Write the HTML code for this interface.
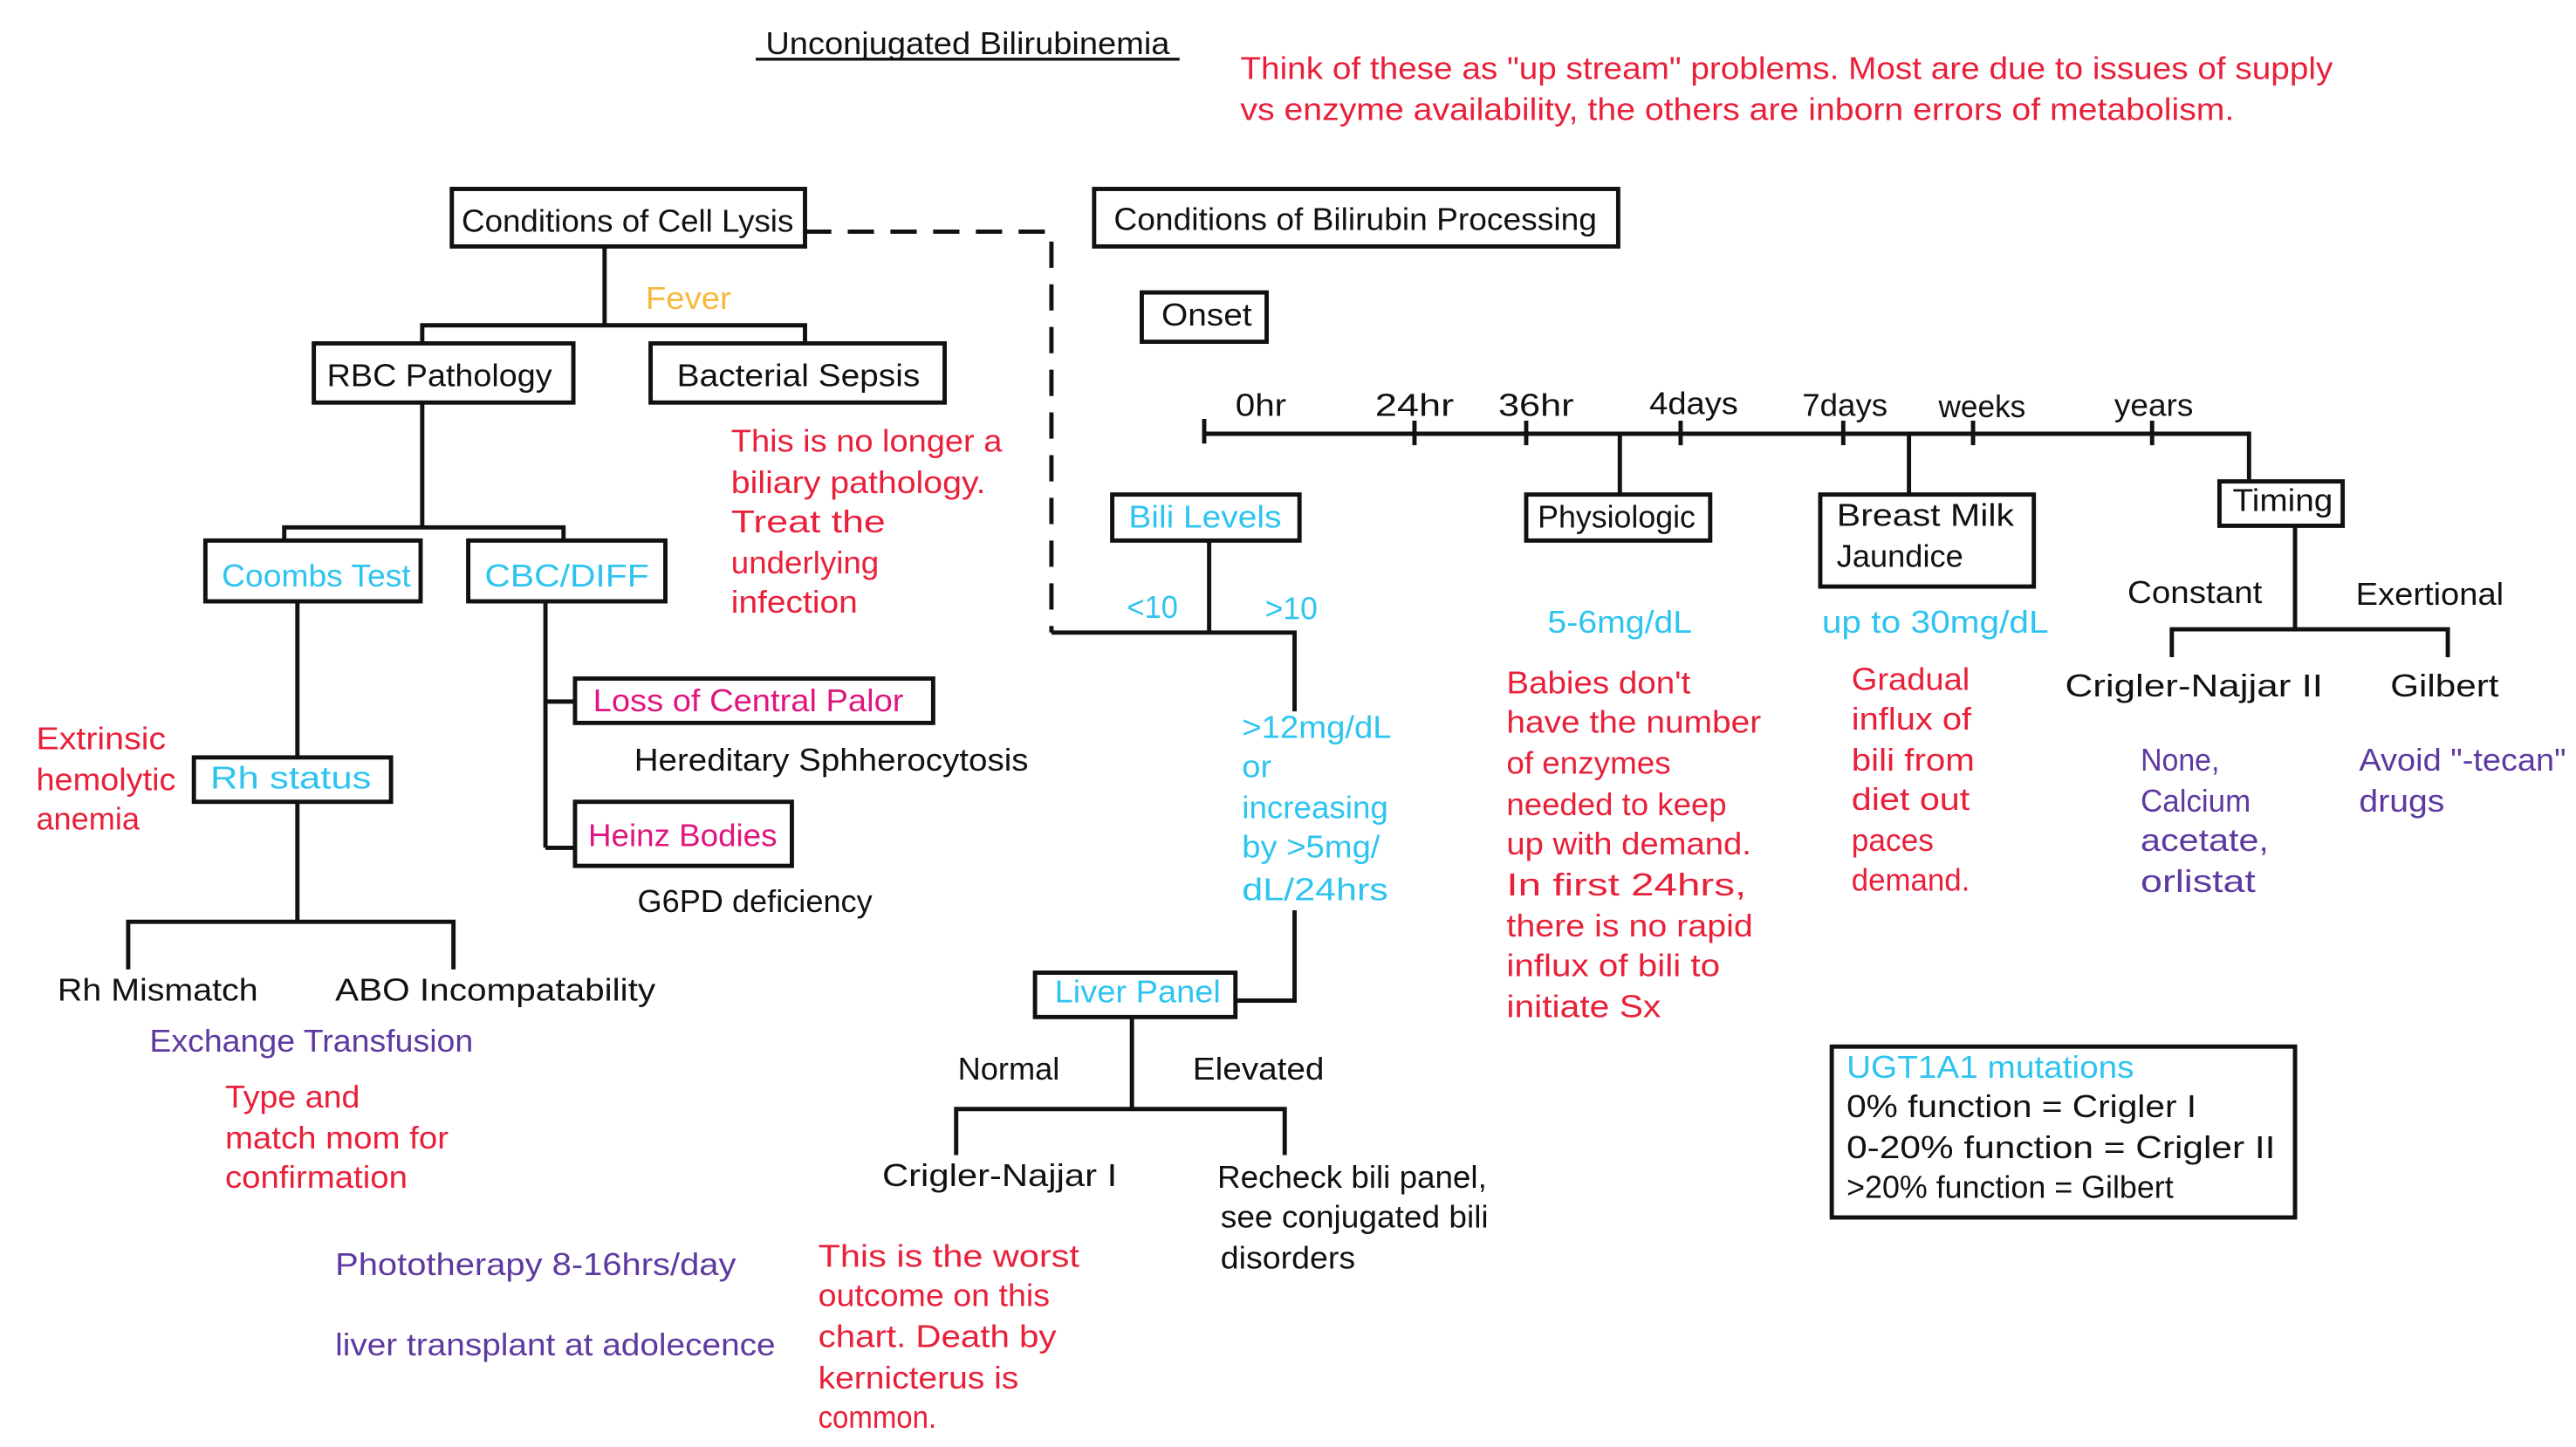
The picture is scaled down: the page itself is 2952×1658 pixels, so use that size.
<!DOCTYPE html>
<html><head><meta charset="utf-8"><style>
html,body{margin:0;padding:0;background:#fff;}
svg{display:block;}
text{font-family:"Liberation Sans Narrow","Liberation Sans",sans-serif;font-size:19px;}
.k{fill:#111}.r{fill:#e8203a}.c{fill:#2ec4f0}.p{fill:#5e3aa0}.m{fill:#e0157f}.o{fill:#f6b93b}
</style></head><body>
<svg width="2952" height="1658" viewBox="0 0 1568 880.7" xmlns="http://www.w3.org/2000/svg">
<g fill="none" stroke="#111" stroke-width="2.6">
<!-- title underline -->
<line x1="460" y1="36" x2="718" y2="36" stroke-width="1.8"/>
<!-- boxes -->
<rect x="275" y="115" width="215" height="35"/>
<rect x="666" y="115" width="319" height="35"/>
<rect x="695" y="178" width="76" height="30"/>
<rect x="191" y="209" width="158" height="36"/>
<rect x="396" y="209" width="179" height="36"/>
<rect x="125" y="329" width="131" height="37"/>
<rect x="285" y="329" width="120" height="37"/>
<rect x="118" y="461" width="120" height="27"/>
<rect x="350" y="413" width="218" height="27"/>
<rect x="350" y="488" width="132" height="39"/>
<rect x="677" y="301" width="114" height="28"/>
<rect x="929" y="301" width="112" height="28"/>
<rect x="1108" y="301" width="130" height="56"/>
<rect x="1351" y="293" width="75" height="27"/>
<rect x="630" y="592" width="122" height="27"/>
<rect x="1115" y="637" width="282" height="104"/>
<!-- dashed -->
<path d="M490 141 H640 V385" stroke-dasharray="16 10"/>
<!-- left tree -->
<path d="M368 150 V198 M257 209 V198 H490 V209"/>
<path d="M257 245 V321 M173 329 V321 H343 V329"/>
<path d="M181 366 V461 M181 488 V561 M78 590 V561 H276 V590"/>
<path d="M332 366 V516 M332 427 H350 M332 516 H350"/>
<!-- bili levels -->
<path d="M640 385 H788 V433 M736 329 V385 M788 554 V609 H752"/>
<path d="M689 619 V675 M582 703 V675 H782 V703"/>
<!-- timeline -->
<path d="M733 264 H1369 V293 M733 255 V270"/>
<path d="M861 256 V271 M929 256 V271 M1023 256 V271 M1122 256 V271 M1201 256 V271 M1310 256 V271"/>
<path d="M986 264 V301 M1162 264 V301"/>
<path d="M1397 320 V383 M1322 400 V383 H1490 V400"/>
</g>
<text class="k" x="466" y="33" textLength="246" lengthAdjust="spacingAndGlyphs">Unconjugated Bilirubinemia</text>
<text class="r" x="755" y="48" textLength="665" lengthAdjust="spacingAndGlyphs">Think of these as "up stream" problems. Most are due to issues of supply</text>
<text class="r" x="755" y="73" textLength="605" lengthAdjust="spacingAndGlyphs">vs enzyme availability, the others are inborn errors of metabolism.</text>
<text class="k" x="281" y="141" textLength="202" lengthAdjust="spacingAndGlyphs">Conditions of Cell Lysis</text>
<text class="k" x="678" y="140" textLength="294" lengthAdjust="spacingAndGlyphs">Conditions of Bilirubin Processing</text>
<text class="k" x="707" y="198" textLength="55" lengthAdjust="spacingAndGlyphs">Onset</text>
<text class="o" x="393" y="188" textLength="52" lengthAdjust="spacingAndGlyphs">Fever</text>
<text class="k" x="199" y="235" textLength="137" lengthAdjust="spacingAndGlyphs">RBC Pathology</text>
<text class="k" x="412" y="235" textLength="148" lengthAdjust="spacingAndGlyphs">Bacterial Sepsis</text>
<g class="r">
<text x="445" y="275" textLength="165" lengthAdjust="spacingAndGlyphs">This is no longer a</text>
<text x="445" y="300" textLength="155" lengthAdjust="spacingAndGlyphs">biliary pathology.</text>
<text x="445" y="324" textLength="94" lengthAdjust="spacingAndGlyphs">Treat the</text>
<text x="445" y="349" textLength="90" lengthAdjust="spacingAndGlyphs">underlying</text>
<text x="445" y="373" textLength="77" lengthAdjust="spacingAndGlyphs">infection</text>
</g>
<text class="c" x="135" y="357" textLength="115" lengthAdjust="spacingAndGlyphs">Coombs Test</text>
<text class="c" x="295" y="357" textLength="100" lengthAdjust="spacingAndGlyphs">CBC/DIFF</text>
<text class="c" x="128" y="480" textLength="98" lengthAdjust="spacingAndGlyphs">Rh status</text>
<text class="m" x="361" y="433" textLength="189" lengthAdjust="spacingAndGlyphs">Loss of Central Palor</text>
<text class="m" x="358" y="515" textLength="115" lengthAdjust="spacingAndGlyphs">Heinz Bodies</text>
<text class="k" x="386" y="469" textLength="240" lengthAdjust="spacingAndGlyphs">Hereditary Sphherocytosis</text>
<text class="k" x="388" y="555" textLength="143" lengthAdjust="spacingAndGlyphs">G6PD deficiency</text>
<g class="r">
<text x="22" y="456" textLength="79" lengthAdjust="spacingAndGlyphs">Extrinsic</text>
<text x="22" y="481" textLength="85" lengthAdjust="spacingAndGlyphs">hemolytic</text>
<text x="22" y="505" textLength="63" lengthAdjust="spacingAndGlyphs">anemia</text>
</g>
<text class="k" x="35" y="609" textLength="122" lengthAdjust="spacingAndGlyphs">Rh Mismatch</text>
<text class="k" x="204" y="609" textLength="195" lengthAdjust="spacingAndGlyphs">ABO Incompatability</text>
<text class="p" x="91" y="640" textLength="197" lengthAdjust="spacingAndGlyphs">Exchange Transfusion</text>
<g class="r">
<text x="137" y="674" textLength="82" lengthAdjust="spacingAndGlyphs">Type and</text>
<text x="137" y="699" textLength="136" lengthAdjust="spacingAndGlyphs">match mom for</text>
<text x="137" y="723" textLength="111" lengthAdjust="spacingAndGlyphs">confirmation</text>
</g>
<text class="p" x="204" y="776" textLength="244" lengthAdjust="spacingAndGlyphs">Phototherapy 8-16hrs/day</text>
<text class="p" x="204" y="825" textLength="268" lengthAdjust="spacingAndGlyphs">liver transplant at adolecence</text>
<!-- timeline labels -->
<g class="k">
<text x="752" y="253" textLength="31" lengthAdjust="spacingAndGlyphs">0hr</text>
<text x="837" y="253" textLength="48" lengthAdjust="spacingAndGlyphs">24hr</text>
<text x="912" y="253" textLength="46" lengthAdjust="spacingAndGlyphs">36hr</text>
<text x="1004" y="252" textLength="54" lengthAdjust="spacingAndGlyphs">4days</text>
<text x="1097" y="253" textLength="52" lengthAdjust="spacingAndGlyphs">7days</text>
<text x="1180" y="254" textLength="53" lengthAdjust="spacingAndGlyphs">weeks</text>
<text x="1287" y="253" textLength="48" lengthAdjust="spacingAndGlyphs">years</text>
<text x="936" y="321" textLength="96" lengthAdjust="spacingAndGlyphs">Physiologic</text>
<text x="1118" y="320" textLength="108" lengthAdjust="spacingAndGlyphs">Breast Milk</text>
<text x="1118" y="345" textLength="77" lengthAdjust="spacingAndGlyphs">Jaundice</text>
<text x="1359" y="311" textLength="61" lengthAdjust="spacingAndGlyphs">Timing</text>
<text x="1295" y="367" textLength="82" lengthAdjust="spacingAndGlyphs">Constant</text>
<text x="1434" y="368" textLength="90" lengthAdjust="spacingAndGlyphs">Exertional</text>
<text x="1257" y="424" textLength="157" lengthAdjust="spacingAndGlyphs">Crigler-Najjar II</text>
<text x="1455" y="424" textLength="66" lengthAdjust="spacingAndGlyphs">Gilbert</text>
</g>
<g class="p">
<text x="1303" y="469" textLength="48" lengthAdjust="spacingAndGlyphs">None,</text>
<text x="1303" y="494" textLength="67" lengthAdjust="spacingAndGlyphs">Calcium</text>
<text x="1303" y="518" textLength="78" lengthAdjust="spacingAndGlyphs">acetate,</text>
<text x="1303" y="543" textLength="70" lengthAdjust="spacingAndGlyphs">orlistat</text>
<text x="1436" y="469" textLength="126" lengthAdjust="spacingAndGlyphs">Avoid "-tecan"</text>
<text x="1436" y="494" textLength="52" lengthAdjust="spacingAndGlyphs">drugs</text>
</g>
<g class="c">
<text x="687" y="321" textLength="93" lengthAdjust="spacingAndGlyphs">Bili Levels</text>
<text x="686" y="376" textLength="31" lengthAdjust="spacingAndGlyphs">&lt;10</text>
<text x="770" y="377" textLength="32" lengthAdjust="spacingAndGlyphs">&gt;10</text>
<text x="756" y="449" textLength="91" lengthAdjust="spacingAndGlyphs">&gt;12mg/dL</text>
<text x="756" y="473" textLength="18" lengthAdjust="spacingAndGlyphs">or</text>
<text x="756" y="498" textLength="89" lengthAdjust="spacingAndGlyphs">increasing</text>
<text x="756" y="522" textLength="84" lengthAdjust="spacingAndGlyphs">by &gt;5mg/</text>
<text x="756" y="548" textLength="89" lengthAdjust="spacingAndGlyphs">dL/24hrs</text>
<text x="942" y="385" textLength="88" lengthAdjust="spacingAndGlyphs">5-6mg/dL</text>
<text x="1109" y="385" textLength="138" lengthAdjust="spacingAndGlyphs">up to 30mg/dL</text>
<text x="642" y="610" textLength="101" lengthAdjust="spacingAndGlyphs">Liver Panel</text>
<text x="1124" y="656" textLength="175" lengthAdjust="spacingAndGlyphs">UGT1A1 mutations</text>
</g>
<g class="r">
<text x="917" y="422" textLength="112" lengthAdjust="spacingAndGlyphs">Babies don't</text>
<text x="917" y="446" textLength="155" lengthAdjust="spacingAndGlyphs">have the number</text>
<text x="917" y="471" textLength="100" lengthAdjust="spacingAndGlyphs">of enzymes</text>
<text x="917" y="496" textLength="134" lengthAdjust="spacingAndGlyphs">needed to keep</text>
<text x="917" y="520" textLength="149" lengthAdjust="spacingAndGlyphs">up with demand.</text>
<text x="917" y="545" textLength="146" lengthAdjust="spacingAndGlyphs">In first 24hrs,</text>
<text x="917" y="570" textLength="150" lengthAdjust="spacingAndGlyphs">there is no rapid</text>
<text x="917" y="594" textLength="130" lengthAdjust="spacingAndGlyphs">influx of bili to</text>
<text x="917" y="619" textLength="94" lengthAdjust="spacingAndGlyphs">initiate Sx</text>
<text x="1127" y="420" textLength="72" lengthAdjust="spacingAndGlyphs">Gradual</text>
<text x="1127" y="444" textLength="73" lengthAdjust="spacingAndGlyphs">influx of</text>
<text x="1127" y="469" textLength="75" lengthAdjust="spacingAndGlyphs">bili from</text>
<text x="1127" y="493" textLength="72" lengthAdjust="spacingAndGlyphs">diet out</text>
<text x="1127" y="518" textLength="50" lengthAdjust="spacingAndGlyphs">paces</text>
<text x="1127" y="542" textLength="72" lengthAdjust="spacingAndGlyphs">demand.</text>
<text x="498" y="771" textLength="159" lengthAdjust="spacingAndGlyphs">This is the worst</text>
<text x="498" y="795" textLength="141" lengthAdjust="spacingAndGlyphs">outcome on this</text>
<text x="498" y="820" textLength="145" lengthAdjust="spacingAndGlyphs">chart. Death by</text>
<text x="498" y="845" textLength="122" lengthAdjust="spacingAndGlyphs">kernicterus is</text>
<text x="498" y="869" textLength="72" lengthAdjust="spacingAndGlyphs">common.</text>
</g>
<g class="k">
<text x="583" y="657" textLength="62" lengthAdjust="spacingAndGlyphs">Normal</text>
<text x="726" y="657" textLength="80" lengthAdjust="spacingAndGlyphs">Elevated</text>
<text x="537" y="722" textLength="143" lengthAdjust="spacingAndGlyphs">Crigler-Najjar I</text>
<text x="741" y="723" textLength="164" lengthAdjust="spacingAndGlyphs">Recheck bili panel,</text>
<text x="743" y="747" textLength="163" lengthAdjust="spacingAndGlyphs">see conjugated bili</text>
<text x="743" y="772" textLength="82" lengthAdjust="spacingAndGlyphs">disorders</text>
<text x="1124" y="680" textLength="213" lengthAdjust="spacingAndGlyphs">0% function = Crigler I</text>
<text x="1124" y="705" textLength="261" lengthAdjust="spacingAndGlyphs">0-20% function = Crigler II</text>
<text x="1124" y="729" textLength="199" lengthAdjust="spacingAndGlyphs">&gt;20% function = Gilbert</text>
</g>
</svg>
</body></html>
